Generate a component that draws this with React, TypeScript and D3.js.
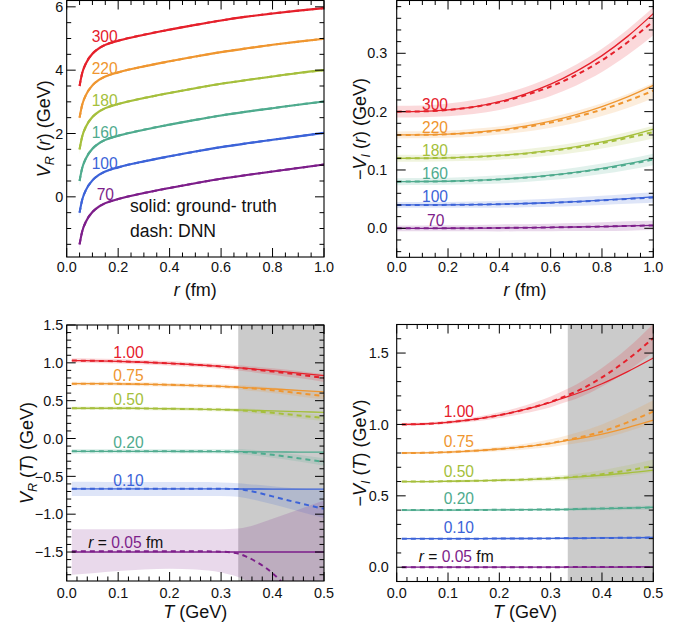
import React from "react";
import * as d3 from "d3";

const FONT = "'Liberation Sans', Arial, Helvetica, sans-serif";

// colours
const RED = "#e5202b";
const ORANGE = "#ef9630";
const LIME = "#a5bf3c";
const TEAL = "#4fab8e";
const BLUE = "#3c63d8";
const PURPLE = "#7d1e8a";

// ---------- Panel 1 : V_R(r) ----------
const rGrid1 = [0.05, 0.06, 0.075, 0.1, 0.125, 0.15, 0.2, 0.3, 0.4, 0.5, 0.6, 0.7, 0.8, 0.9, 1.0];
const vr70 = [-1.5, -1.1, -0.78, -0.48, -0.31, -0.2, -0.07, 0.12, 0.28, 0.43, 0.57, 0.69, 0.8, 0.91, 1.02];
const vr100 = [-0.5, -0.1, 0.22, 0.52, 0.69, 0.8, 0.93, 1.12, 1.28, 1.43, 1.57, 1.69, 1.8, 1.91, 2.02];
const vr160 = [0.5, 0.9, 1.22, 1.52, 1.69, 1.8, 1.93, 2.12, 2.28, 2.43, 2.57, 2.69, 2.8, 2.91, 3.01];
const vr180 = [1.5, 1.9, 2.22, 2.52, 2.69, 2.8, 2.93, 3.12, 3.28, 3.43, 3.57, 3.69, 3.8, 3.91, 4.0];
const vr220 = [2.5, 2.9, 3.22, 3.52, 3.69, 3.8, 3.93, 4.12, 4.28, 4.43, 4.57, 4.69, 4.8, 4.9, 4.99];
const vr300 = [3.5, 3.9, 4.22, 4.52, 4.69, 4.8, 4.93, 5.12, 5.28, 5.43, 5.57, 5.69, 5.79, 5.88, 5.96];
const err1 = [0.16, 0.11, 0.08, 0.06, 0.05, 0.04, 0.035, 0.03, 0.03, 0.03, 0.03, 0.03, 0.03, 0.03, 0.03];
const labels1 = ["300", "220", "180", "160", "100", "70"];

// ---------- Panel 2 : -V_I(r) ----------
const rGrid2 = [0, 0.1, 0.2, 0.3, 0.4, 0.5, 0.6, 0.7, 0.8, 0.9, 1.0];
const vi300gt = [0.2, 0.2005, 0.203, 0.208, 0.217, 0.23, 0.247, 0.269, 0.296, 0.329, 0.368];
const vi300dnn = [0.2, 0.2005, 0.203, 0.208, 0.216, 0.228, 0.243, 0.263, 0.288, 0.319, 0.355];
const vi300err = [0.01, 0.01, 0.011, 0.012, 0.013, 0.014, 0.016, 0.018, 0.02, 0.022, 0.024];
const vi220gt = [0.16, 0.1603, 0.1615, 0.1642, 0.1686, 0.175, 0.1837, 0.1948, 0.2087, 0.2253, 0.245];
const vi220dnn = [0.16, 0.1603, 0.1613, 0.1638, 0.1677, 0.1734, 0.1812, 0.1911, 0.2035, 0.2184, 0.236];
const vi220err = [0.006, 0.006, 0.006, 0.007, 0.007, 0.008, 0.009, 0.01, 0.011, 0.012, 0.013];
const vi180gt = [0.12, 0.1202, 0.1209, 0.1225, 0.125, 0.1286, 0.1336, 0.14, 0.148, 0.1578, 0.17];
const vi180dnn = [0.12, 0.1202, 0.1208, 0.1222, 0.1246, 0.128, 0.1326, 0.1385, 0.146, 0.155, 0.165];
const vi180err = [0.006, 0.006, 0.006, 0.0065, 0.007, 0.0075, 0.008, 0.0085, 0.009, 0.01, 0.011];
const vi160gt = [0.08, 0.0802, 0.0807, 0.082, 0.084, 0.0871, 0.0911, 0.0964, 0.1029, 0.1108, 0.12];
const vi160dnn = [0.08, 0.0802, 0.0807, 0.0819, 0.0838, 0.0868, 0.0906, 0.0957, 0.1019, 0.1094, 0.118];
const vi160err = [0.006, 0.006, 0.006, 0.0065, 0.007, 0.0075, 0.008, 0.0085, 0.009, 0.0095, 0.01];
const vi100gt = [0.04, 0.0401, 0.0402, 0.0406, 0.0414, 0.0425, 0.044, 0.0458, 0.0482, 0.0509, 0.054];
const vi100dnn = [0.04, 0.0401, 0.0402, 0.0406, 0.0413, 0.0424, 0.0438, 0.0456, 0.0479, 0.0505, 0.053];
const vi100err = [0.005, 0.005, 0.005, 0.0055, 0.006, 0.0065, 0.007, 0.0075, 0.008, 0.0085, 0.009];
const vi70gt = [0, 0, 0.0001, 0.0003, 0.0006, 0.001, 0.0015, 0.0022, 0.003, 0.004, 0.005];
const vi70dnn = [0, 0, 0.0001, 0.0003, 0.0006, 0.001, 0.0015, 0.0022, 0.003, 0.004, 0.005];
const vi70err = [0.005, 0.005, 0.005, 0.0055, 0.006, 0.006, 0.0065, 0.007, 0.0075, 0.008, 0.008];

// ---------- Panel 3 : V_R(T) ----------
const tGrid = [0.01, 0.05, 0.1, 0.15, 0.2, 0.25, 0.3, 0.333, 0.35, 0.4, 0.45, 0.5];
const vrT100gt = [1.03, 1.027, 1.02, 1.008, 0.993, 0.975, 0.952, 0.935, 0.926, 0.897, 0.865, 0.83];
const vrT100dnn = [1.03, 1.027, 1.02, 1.008, 0.993, 0.975, 0.952, 0.933, 0.922, 0.885, 0.845, 0.8];
const vrT100err = [0.03, 0.03, 0.03, 0.03, 0.03, 0.03, 0.032, 0.035, 0.037, 0.042, 0.047, 0.052];
const vrT075gt = [0.725, 0.725, 0.722, 0.717, 0.71, 0.7, 0.688, 0.678, 0.673, 0.656, 0.637, 0.615];
const vrT075dnn = [0.725, 0.725, 0.722, 0.717, 0.71, 0.7, 0.688, 0.676, 0.668, 0.638, 0.6, 0.56];
const vrT075err = [0.025, 0.025, 0.025, 0.025, 0.025, 0.026, 0.028, 0.03, 0.032, 0.036, 0.04, 0.045];
const vrT050gt = [0.4, 0.4, 0.4, 0.397, 0.393, 0.388, 0.382, 0.377, 0.374, 0.365, 0.355, 0.345];
const vrT050dnn = [0.4, 0.4, 0.4, 0.397, 0.393, 0.388, 0.382, 0.375, 0.368, 0.34, 0.305, 0.27];
const vrT050err = [0.022, 0.022, 0.022, 0.022, 0.022, 0.023, 0.025, 0.027, 0.029, 0.033, 0.037, 0.042];
const vrT020gt = [-0.17, -0.17, -0.17, -0.17, -0.171, -0.172, -0.173, -0.174, -0.175, -0.177, -0.179, -0.18];
const vrT020dnn = [-0.17, -0.17, -0.168, -0.167, -0.167, -0.168, -0.17, -0.174, -0.18, -0.215, -0.26, -0.31];
const vrT020err = [0.03, 0.03, 0.03, 0.03, 0.03, 0.03, 0.032, 0.034, 0.036, 0.04, 0.045, 0.05];
const vrT010gt = [-0.665, -0.665, -0.665, -0.665, -0.665, -0.666, -0.666, -0.667, -0.667, -0.668, -0.669, -0.67];
const vrT010dnn = [-0.665, -0.665, -0.665, -0.664, -0.664, -0.665, -0.665, -0.668, -0.685, -0.765, -0.85, -0.93];
const vrT010hi = [-0.57, -0.57, -0.575, -0.575, -0.575, -0.575, -0.58, -0.59, -0.6, -0.63, -0.66, -0.68];
const vrT010lo = [-0.76, -0.76, -0.76, -0.76, -0.76, -0.76, -0.76, -0.77, -0.79, -0.87, -0.96, -1.05];
const vrT005gt = [-1.5, -1.5, -1.5, -1.5, -1.5, -1.5, -1.5, -1.5, -1.5, -1.5, -1.5, -1.5];
const vrT005dnn = [-1.49, -1.49, -1.49, -1.49, -1.49, -1.49, -1.495, -1.52, -1.565, -1.78, -2.15, -2.6];
const vrT005hi = [-1.2, -1.2, -1.2, -1.2, -1.2, -1.2, -1.2, -1.19, -1.17, -1.06, -0.94, -0.82];
const vrT005lo = [-1.8, -1.78, -1.75, -1.73, -1.72, -1.73, -1.77, -1.83, -1.88, -2.1, -2.4, -2.7];

// ---------- Panel 4 : -V_I(T) ----------
const viT100gt = [1.0, 1.003, 1.015, 1.035, 1.065, 1.105, 1.155, 1.195, 1.215, 1.285, 1.37, 1.465];
const viT100dnn = [1.0, 1.003, 1.015, 1.035, 1.065, 1.105, 1.158, 1.205, 1.23, 1.33, 1.455, 1.605];
const viT100err = [0.01, 0.01, 0.012, 0.015, 0.02, 0.027, 0.037, 0.045, 0.05, 0.065, 0.08, 0.1];
const viT075gt = [0.8, 0.801, 0.806, 0.815, 0.828, 0.845, 0.868, 0.888, 0.898, 0.933, 0.978, 1.03];
const viT075dnn = [0.8, 0.801, 0.806, 0.815, 0.828, 0.845, 0.869, 0.892, 0.905, 0.95, 1.015, 1.09];
const viT075err = [0.008, 0.008, 0.01, 0.012, 0.015, 0.02, 0.027, 0.033, 0.037, 0.05, 0.065, 0.08];
const viT050gt = [0.6, 0.6, 0.602, 0.605, 0.609, 0.614, 0.621, 0.627, 0.631, 0.644, 0.66, 0.68];
const viT050dnn = [0.6, 0.6, 0.602, 0.605, 0.609, 0.614, 0.622, 0.629, 0.634, 0.652, 0.678, 0.71];
const viT050err = [0.008, 0.008, 0.009, 0.01, 0.011, 0.013, 0.016, 0.019, 0.021, 0.028, 0.036, 0.045];
const viT020gt = [0.4, 0.4, 0.4, 0.401, 0.402, 0.403, 0.404, 0.405, 0.406, 0.41, 0.414, 0.42];
const viT020dnn = [0.4, 0.4, 0.4, 0.401, 0.402, 0.403, 0.404, 0.405, 0.407, 0.411, 0.415, 0.418];
const viT020err = [0.008, 0.008, 0.008, 0.008, 0.009, 0.009, 0.01, 0.011, 0.011, 0.012, 0.014, 0.015];
const viT010gt = [0.2, 0.2, 0.2, 0.2, 0.201, 0.201, 0.202, 0.203, 0.203, 0.205, 0.206, 0.208];
const viT010dnn = [0.2, 0.2, 0.2, 0.2, 0.201, 0.201, 0.202, 0.203, 0.203, 0.205, 0.206, 0.208];
const viT010err = [0.006, 0.006, 0.006, 0.006, 0.006, 0.006, 0.007, 0.007, 0.007, 0.008, 0.008, 0.009];
const viT005gt = [0, 0, 0, 0, 0, 0, 0.0005, 0.0007, 0.0008, 0.001, 0.0015, 0.002];
const viT005dnn = [0, 0, 0, 0, 0, 0, 0.0005, 0.0007, 0.0008, 0.001, 0.0015, 0.002];
const viT005err = [0.005, 0.005, 0.005, 0.005, 0.005, 0.005, 0.005, 0.005, 0.005, 0.006, 0.006, 0.006];

type Series = {
  color: string;
  xs: number[];
  gt: number[];
  dnn: number[];
  lo: number[];
  hi: number[];
};

const sym = (c: number[], e: number[]) => ({
  lo: c.map((v, i) => v - e[i]),
  hi: c.map((v, i) => v + e[i]),
});

const COLORS = [RED, ORANGE, LIME, TEAL, BLUE, PURPLE];

const p1Series: Series[] = [vr300, vr220, vr180, vr160, vr100, vr70].map((v, i) => ({
  color: COLORS[i],
  xs: rGrid1,
  gt: v,
  dnn: v,
  ...sym(v, err1),
}));

const p2Series: Series[] = [
  [vi300gt, vi300dnn, vi300err],
  [vi220gt, vi220dnn, vi220err],
  [vi180gt, vi180dnn, vi180err],
  [vi160gt, vi160dnn, vi160err],
  [vi100gt, vi100dnn, vi100err],
  [vi70gt, vi70dnn, vi70err],
].map(([g, d, e], i) => ({ color: COLORS[i], xs: rGrid2, gt: g, dnn: d, ...sym(d, e) }));

const p3Series: Series[] = [
  { color: RED, xs: tGrid, gt: vrT100gt, dnn: vrT100dnn, ...sym(vrT100dnn, vrT100err) },
  { color: ORANGE, xs: tGrid, gt: vrT075gt, dnn: vrT075dnn, ...sym(vrT075dnn, vrT075err) },
  { color: LIME, xs: tGrid, gt: vrT050gt, dnn: vrT050dnn, ...sym(vrT050dnn, vrT050err) },
  { color: TEAL, xs: tGrid, gt: vrT020gt, dnn: vrT020dnn, ...sym(vrT020dnn, vrT020err) },
  { color: BLUE, xs: tGrid, gt: vrT010gt, dnn: vrT010dnn, lo: vrT010lo, hi: vrT010hi },
  { color: PURPLE, xs: tGrid, gt: vrT005gt, dnn: vrT005dnn, lo: vrT005lo, hi: vrT005hi },
];

const p4Series: Series[] = [
  [viT100gt, viT100dnn, viT100err],
  [viT075gt, viT075dnn, viT075err],
  [viT050gt, viT050dnn, viT050err],
  [viT020gt, viT020dnn, viT020err],
  [viT010gt, viT010dnn, viT010err],
  [viT005gt, viT005dnn, viT005err],
].map(([g, d, e], i) => ({ color: COLORS[i], xs: tGrid, gt: g, dnn: d, ...sym(d, e) }));

type Label = { text: React.ReactNode; x: number; y: number };

type PanelProps = {
  id: string;
  left: number;
  top: number;
  width: number;
  height: number;
  xDomain: [number, number];
  yDomain: [number, number];
  xMajor: number[];
  xMinorStep: number;
  yMajor: number[];
  yMinorStep: number;
  xFmt: (v: number) => string;
  yFmt: (v: number) => string;
  yLabelGap: number;
  series: Series[];
  shadeFrom?: number;
  solidWidth: number;
  dashWidth: number;
  bandOpacity: number;
  labels: Label[];
  xTitle: React.ReactNode;
  yTitle: React.ReactNode;
  xTitleY: number;
  xTickY: number;
  yTitleX: number;
};

const fmtMinus = (s: string) => s.replace("-", "\u2212");

const TICK_FS = 14.4;
const TITLE_FS = 18;
const LABEL_FS = 15.6;

function Panel(p: PanelProps) {
  const x = d3.scaleLinear().domain(p.xDomain).range([p.left, p.left + p.width]);
  const y = d3.scaleLinear().domain(p.yDomain).range([p.top + p.height, p.top]);
  const line = (xs: number[], ys: number[]) =>
    d3
      .line<number>()
      .x((_, i) => x(xs[i]))
      .y((v) => y(v))
      .curve(d3.curveMonotoneX)(ys) || "";
  const area = (xs: number[], lo: number[], hi: number[]) =>
    d3
      .area<number>()
      .x((_, i) => x(xs[i]))
      .y0((_, i) => y(lo[i]))
      .y1((v) => y(v))
      .curve(d3.curveMonotoneX)(hi) || "";

  const eps = 1e-9;
  const minorX: number[] = [];
  for (let v = p.xDomain[0]; v <= p.xDomain[1] + eps; v += p.xMinorStep) minorX.push(+v.toFixed(6));
  const minorY: number[] = [];
  const y0 = Math.ceil(p.yDomain[0] / p.yMinorStep - eps) * p.yMinorStep;
  for (let v = y0; v <= p.yDomain[1] + eps; v += p.yMinorStep) minorY.push(+v.toFixed(6));
  const isMajor = (arr: number[], v: number) => arr.some((m) => Math.abs(m - v) < 1e-6);

  const MAJ = 9;
  const MIN = 4.5;
  const right = p.left + p.width;
  const bottom = p.top + p.height;
  const tickPaths: string[] = [];
  minorX.forEach((v) => {
    const L = isMajor(p.xMajor, v) ? MAJ : MIN;
    const px = x(v);
    tickPaths.push(`M${px},${bottom}v${-L}M${px},${p.top}v${L}`);
  });
  minorY.forEach((v) => {
    const L = isMajor(p.yMajor, v) ? MAJ : MIN;
    const py = y(v);
    tickPaths.push(`M${p.left},${py}h${L}M${right},${py}h${-L}`);
  });

  return (
    <g>
      <defs>
        <clipPath id={p.id}>
          <rect x={p.left} y={p.top} width={p.width} height={p.height} />
        </clipPath>
      </defs>
      <g clipPath={`url(#${p.id})`}>
        {p.shadeFrom !== undefined && (
          <rect x={x(p.shadeFrom)} y={p.top} width={right - x(p.shadeFrom)} height={p.height} fill="#cbcbcb" />
        )}
        {p.series.map((s, i) => (
          <path key={"b" + i} d={area(s.xs, s.lo, s.hi)} fill={s.color} fillOpacity={p.bandOpacity} stroke="none" />
        ))}
        {p.series.map((s, i) => (
          <path key={"s" + i} d={line(s.xs, s.gt)} fill="none" stroke={s.color} strokeWidth={p.solidWidth} />
        ))}
        {p.series.map((s, i) => (
          <path
            key={"d" + i}
            d={line(s.xs, s.dnn)}
            fill="none"
            stroke={s.color}
            strokeWidth={p.dashWidth}
            strokeDasharray="5,4"
          />
        ))}
      </g>
      <rect x={p.left} y={p.top} width={p.width} height={p.height} fill="none" stroke="#000" strokeWidth={1.1} />
      <path d={tickPaths.join("")} stroke="#000" strokeWidth={1} fill="none" />
      {p.xMajor.map((v) => (
        <text key={"xt" + v} x={x(v)} y={p.xTickY} textAnchor="middle" fontSize={TICK_FS} fill="#111">
          {p.xFmt(v)}
        </text>
      ))}
      {p.yMajor.map((v) => (
        <text
          key={"yt" + v}
          x={p.left - p.yLabelGap}
          y={y(v)}
          dy="0.36em"
          textAnchor="end"
          fontSize={TICK_FS}
          fill="#111"
        >
          {fmtMinus(p.yFmt(v))}
        </text>
      ))}
      <text x={p.left + p.width / 2} y={p.xTitleY} textAnchor="middle" fontSize={TITLE_FS} fill="#111">
        {p.xTitle}
      </text>
      <text
        transform={`translate(${p.yTitleX},${p.top + p.height / 2}) rotate(-90)`}
        textAnchor="middle"
        fontSize={TITLE_FS}
        fill="#111"
      >
        {p.yTitle}
      </text>
      {p.labels.map((l, i) => (
        <text key={"l" + i} x={l.x} y={l.y} fontSize={LABEL_FS} fill="#111">
          {l.text}
        </text>
      ))}
    </g>
  );
}

const it = (s: string) => <tspan fontStyle="italic">{s}</tspan>;

export default function App() {
  const f1 = (v: number) => v.toFixed(1);
  const f0 = (v: number) => v.toFixed(0);
  const col = (c: string, t: string) => <tspan fill={c}>{t}</tspan>;
  const rLabel = (
    <>
      <tspan fontStyle="italic">r</tspan> = <tspan fill={PURPLE}>0.05</tspan> fm
    </>
  );
  return (
    <svg
      width={694}
      height={630}
      style={{ position: "absolute", left: 0, top: 0, fontFamily: FONT, background: "#fff" }}
    >
      <Panel
        id="c1"
        left={66.7}
        top={0.5}
        width={257.3}
        height={256.5}
        xDomain={[0, 1]}
        yDomain={[-1.9, 6.2]}
        xMajor={[0, 0.2, 0.4, 0.6, 0.8, 1.0]}
        xMinorStep={0.05}
        yMajor={[0, 2, 4, 6]}
        yMinorStep={0.5}
        xFmt={f1}
        yFmt={f0}
        yLabelGap={3.5}
        series={p1Series}
        solidWidth={2.1}
        dashWidth={2}
        bandOpacity={0.15}
        labels={labels1.map((t, i) => ({
          text: col(COLORS[i], t),
          x: t === "70" ? 96.7 : 91.7,
          y: [42, 74, 106, 137.7, 169, 200][i],
        }))}
        xTitle={<>{it("r")} (fm)</>}
        yTitle={
          <>
            {it("V")}
            <tspan fontStyle="italic" fontSize={12.5} dy={4}>R</tspan>
            <tspan dy={-4}> (</tspan>
            {it("r")}) (GeV)
          </>
        }
        xTitleY={295.5}
        xTickY={272}
        yTitleX={50}
      />
      <text x={130} y={212} fontSize={17.6} fill="#111">solid: ground- truth</text>
      <text x={130} y={236.7} fontSize={17.6} fill="#111">dash: DNN</text>

      <Panel
        id="c2"
        left={396.7}
        top={0.5}
        width={256.6}
        height={256.8}
        xDomain={[0, 1]}
        yDomain={[-0.0497, 0.3905]}
        xMajor={[0, 0.2, 0.4, 0.6, 0.8, 1.0]}
        xMinorStep={0.05}
        yMajor={[0, 0.1, 0.2, 0.3]}
        yMinorStep={0.02}
        xFmt={f1}
        yFmt={f1}
        yLabelGap={9.5}
        series={p2Series}
        solidWidth={1.3}
        dashWidth={2}
        bandOpacity={0.17}
        labels={labels1.map((t, i) => ({
          text: col(COLORS[i], t),
          x: t === "70" ? 427 : 422,
          y: [110, 132.7, 155.7, 179, 202.3, 225.7][i],
        }))}
        xTitle={<>{it("r")} (fm)</>}
        yTitle={
          <>
            {"\u2212"}
            {it("V")}
            <tspan fontStyle="italic" fontSize={12.5} dy={4}>I</tspan>
            <tspan dy={-4}> (</tspan>
            {it("r")}) (GeV)
          </>
        }
        xTitleY={295.5}
        xTickY={272}
        yTitleX={366}
      />

      <Panel
        id="c3"
        left={66.7}
        top={325}
        width={257.3}
        height={256}
        xDomain={[0, 0.5]}
        yDomain={[-1.883, 1.5]}
        xMajor={[0, 0.1, 0.2, 0.3, 0.4, 0.5]}
        xMinorStep={0.02}
        yMajor={[-1.5, -1, -0.5, 0, 0.5, 1, 1.5]}
        yMinorStep={0.1}
        xFmt={f1}
        yFmt={f1}
        yLabelGap={3.5}
        series={p3Series}
        shadeFrom={1 / 3}
        solidWidth={1.3}
        dashWidth={2}
        bandOpacity={0.17}
        labels={[
          { text: col(RED, "1.00"), x: 113.3, y: 358.3 },
          { text: col(ORANGE, "0.75"), x: 113.3, y: 381 },
          { text: col(LIME, "0.50"), x: 113.3, y: 405 },
          { text: col(TEAL, "0.20"), x: 113.3, y: 447.7 },
          { text: col(BLUE, "0.10"), x: 113.3, y: 485.7 },
          { text: rLabel, x: 88.3, y: 548.3 },
        ]}
        xTitle={<>{it("T")} (GeV)</>}
        yTitle={
          <>
            {it("V")}
            <tspan fontStyle="italic" fontSize={12.5} dy={4}>R</tspan>
            <tspan dy={-4}> (</tspan>
            {it("T")}) (GeV)
          </>
        }
        xTitleY={617.5}
        xTickY={598}
        yTitleX={33}
      />

      <Panel
        id="c4"
        left={396.7}
        top={324.5}
        width={256.6}
        height={257}
        xDomain={[0, 0.5]}
        yDomain={[-0.1, 1.7]}
        xMajor={[0, 0.1, 0.2, 0.3, 0.4, 0.5]}
        xMinorStep={0.02}
        yMajor={[0, 0.5, 1, 1.5]}
        yMinorStep={0.1}
        xFmt={f1}
        yFmt={f1}
        yLabelGap={8}
        series={p4Series}
        shadeFrom={1 / 3}
        solidWidth={1.3}
        dashWidth={2}
        bandOpacity={0.17}
        labels={[
          { text: col(RED, "1.00"), x: 443.7, y: 416.7 },
          { text: col(ORANGE, "0.75"), x: 443.7, y: 446.7 },
          { text: col(LIME, "0.50"), x: 443.7, y: 476.7 },
          { text: col(TEAL, "0.20"), x: 443.7, y: 504.3 },
          { text: col(BLUE, "0.10"), x: 443.7, y: 533 },
          { text: rLabel, x: 418.7, y: 561.7 },
        ]}
        xTitle={<>{it("T")} (GeV)</>}
        yTitle={
          <>
            {"\u2212"}
            {it("V")}
            <tspan fontStyle="italic" fontSize={12.5} dy={4}>I</tspan>
            <tspan dy={-4}> (</tspan>
            {it("T")}) (GeV)
          </>
        }
        xTitleY={617.5}
        xTickY={598}
        yTitleX={366}
      />
    </svg>
  );
}
